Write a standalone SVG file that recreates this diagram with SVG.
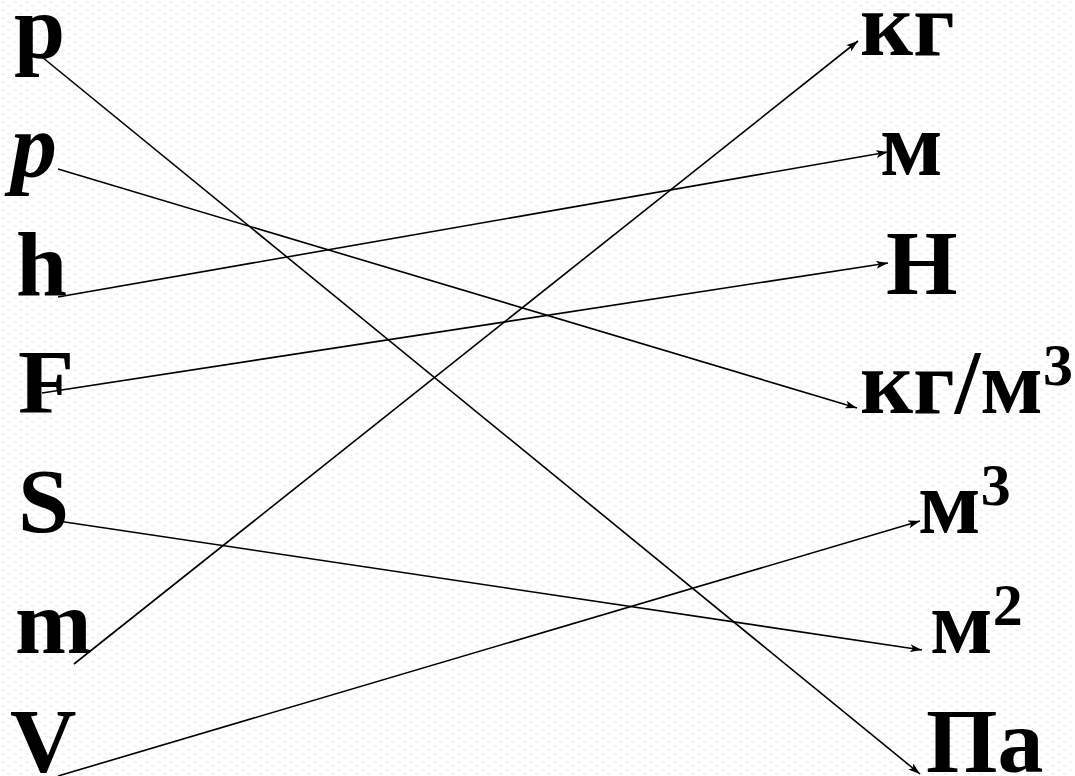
<svg xmlns="http://www.w3.org/2000/svg" width="1075" height="776" viewBox="0 0 1075 776">
<style>
.t{font-family:"Liberation Serif","Times New Roman",serif;font-weight:bold;font-size:92px;fill:#000}
.c line{stroke:#000;stroke-width:1.6;fill:none}
</style>
<defs>
<pattern id="bg" width="12" height="8" patternUnits="userSpaceOnUse">
<rect width="12" height="8" fill="#fefefe"/>
<ellipse cx="3" cy="2" rx="2" ry="1" fill="#f1f1f1"/>
<ellipse cx="9" cy="6" rx="2" ry="1" fill="#f1f1f1"/>
</pattern>
<marker id="ar" viewBox="0 0 12 8" refX="12" refY="4" markerWidth="12" markerHeight="8" markerUnits="userSpaceOnUse" orient="auto">
<path d="M0,0 L12,4 L0,8 L3,4 z" fill="#000"/>
</marker>
</defs>
<rect width="1075" height="776" fill="url(#bg)"/>
<g id="left">
<g id="n-p"><text class="t" x="14" y="58">p</text></g>
<g id="n-rho"><text class="t" x="11" y="177" font-style="italic" font-size="96">p</text></g>
<g id="n-h"><text class="t" x="16" y="295">h</text></g>
<g id="n-F"><text class="t" x="18" y="413">F</text></g>
<g id="n-S"><text class="t" x="18" y="532">S</text></g>
<g id="n-m"><text class="t" x="15" y="653">m</text></g>
<g id="n-V"><text class="t" x="10" y="772">V</text></g>
</g>
<g id="right">
<g id="u-kg"><text class="t" x="860" y="55">кг</text></g>
<g id="u-m"><text class="t" x="880" y="175">м</text></g>
<g id="u-N"><text class="t" x="886" y="294">Н</text></g>
<g id="u-kgm3"><text class="t" x="860" y="413">кг/м<tspan font-size="60" dy="-28">3</tspan></text></g>
<g id="u-m3"><text class="t" x="918" y="533">м<tspan font-size="60" dy="-28">3</tspan></text></g>
<g id="u-m2"><text class="t" x="930" y="653">м<tspan font-size="60" dy="-28">2</tspan></text></g>
<g id="u-Pa"><text class="t" x="926" y="772">Па</text></g>
</g>
<g id="connectors" class="c">
<line x1="42" y1="57" x2="920" y2="774" marker-end="url(#ar)"/>
<line x1="58" y1="169" x2="857" y2="408" marker-end="url(#ar)"/>
<line x1="58" y1="297" x2="888" y2="152" marker-end="url(#ar)"/>
<line x1="42" y1="393" x2="888" y2="263" marker-end="url(#ar)"/>
<line x1="58" y1="521" x2="922" y2="650" marker-end="url(#ar)"/>
<line x1="74" y1="664" x2="858" y2="41" marker-end="url(#ar)"/>
<line x1="58" y1="776" x2="920" y2="521" marker-end="url(#ar)"/>
</g>
</svg>
